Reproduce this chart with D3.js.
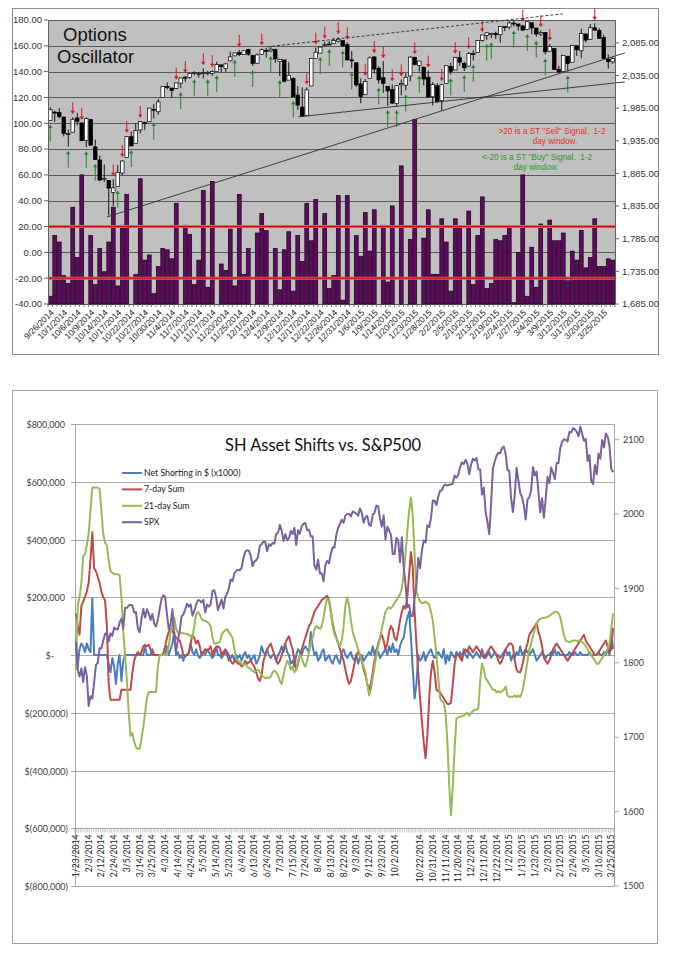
<!DOCTYPE html>
<html><head><meta charset="utf-8">
<script src="https://cdn.jsdelivr.net/npm/d3@7/dist/d3.min.js"></script>
<style>
body{margin:0;background:#fff}
svg{display:block}
.ta text{font-family:"Liberation Sans",Arial,sans-serif}
.ba text{font-family:Lato,"Open Sans",sans-serif}
</style></head>
<body><svg id="c" width="673" height="960"></svg>
<script>
// ================= DATA =================
// Options oscillator (top chart), one value per trading day 9/26/2014 .. 3/27/2015
const oscTickLabels=["9/26/2014","10/1/2014","10/6/2014","10/9/2014","10/14/2014","10/17/2014","10/22/2014","10/27/2014","10/30/2014","11/4/2014","11/7/2014","11/12/2014","11/17/2014","11/20/2014","11/25/2014","12/1/2014","12/4/2014","12/9/2014","12/12/2014","12/17/2014","12/22/2014","12/26/2014","12/31/2014","1/6/2015","1/9/2015","1/14/2015","1/20/2015","1/23/2015","1/28/2015","2/2/2015","2/5/2015","2/10/2015","2/13/2015","2/19/2015","2/24/2015","2/27/2015","3/4/2015","3/9/2015","3/12/2015","3/17/2015","3/20/2015","3/25/2015"];
const oscValues=[-34,13,8,-18,-24,35,-4,60,-45,13,
-25,3,-15,8,35,-26,21,45,-45,-17,
57,-6,-2,-32,-11,3,2,-5,38,-45,
21,14,-25,-6,48,-27,55,-45,-9,-14,
18,-26,45,-17,3,-45,15,30,17,-45,
3,-29,2,16,-30,13,-7,38,9,41,
-45,30,-28,-18,44,-37,44,-45,13,-3,
31,1,33,-45,21,-23,36,-45,67,-45,
10,103,-45,11,33,-17,-17,26,8,-30,
26,19,-45,32,-25,13,43,-28,-24,10,
9,13,19,-39,0,60,-34,4,-27,22,
-45,25,9,9,15,-22,1,-6,17,-12,
-4,26,-11,-11,-5,-6];
// S&P 500 daily close 1/23/2014 .. 3/27/2015
const spxClose=[1828.46,1790.29,1781.56,1792.50,1774.20,1794.19,1782.59,
1741.89,1755.20,1751.64,1773.43,1797.02,1799.84,1819.75,1819.26,1829.83,1838.63,1840.76,1828.75,1839.78,1836.25,1847.61,1845.12,1845.16,1854.29,1859.45,
1845.73,1873.91,1873.81,1877.03,1878.04,1877.17,1867.63,1868.20,1846.34,1841.13,1858.83,1872.25,1860.77,1872.01,1866.52,1857.44,1865.62,1852.56,1849.04,1857.62,1872.34,
1885.52,1890.90,1888.77,1865.09,1845.04,1851.96,1872.18,1833.08,1815.69,1830.61,1842.98,1862.31,1864.85,1871.89,1879.55,1875.39,1878.61,1863.40,1869.43,1878.33,1883.95,
1883.68,1881.14,1884.66,1867.72,1878.21,1875.63,1878.48,1896.65,1897.45,1888.53,1870.85,1877.86,1885.08,1872.83,1888.03,1892.49,1900.53,1911.91,1909.78,1920.03,1923.57,
1924.97,1924.24,1927.88,1940.46,1949.44,1951.27,1950.79,1943.89,1930.11,1936.16,1937.78,1941.99,1956.98,1959.48,1962.87,1962.61,1949.98,1959.53,1957.22,1960.96,1960.23,
1973.32,1974.62,1985.44,1977.65,1963.71,1972.83,1964.68,1967.57,1977.10,1973.28,1981.57,1958.12,1978.22,1973.63,1983.53,1987.01,1987.98,1978.34,1978.91,1969.95,1970.07,1930.67,
1925.15,1938.99,1920.21,1920.24,1909.57,1931.59,1936.92,1933.75,1946.72,1955.18,1955.06,1971.74,1981.60,1986.51,1992.37,1988.40,1997.92,2000.02,2000.12,1996.74,2003.37,
2002.28,2000.72,1997.65,2007.71,2001.54,1988.44,1995.69,1997.45,1985.54,1984.13,1998.98,2001.57,2011.36,2010.40,1994.29,1982.77,1998.30,1965.99,
1982.85,1977.80,1972.29,1946.16,1946.17,1967.90,1964.82,1935.10,1968.89,1928.21,
1906.13,1874.74,1877.70,1862.49,1862.76,1886.76,1904.01,1941.28,1927.11,1950.82,
1964.58,1961.63,1985.05,1982.30,1994.65,2018.05,2017.81,2012.10,2023.57,2031.21,
2031.92,2038.26,2039.68,2038.25,2039.33,2039.82,2041.32,2051.80,2048.72,2052.75,
2063.50,2069.41,2067.03,2072.83,2067.56,2053.44,2066.55,2074.33,2071.92,2075.37,
2060.31,2059.82,2026.14,2035.33,2002.33,1989.63,1972.74,2012.89,2061.23,2070.65,
2078.54,2082.17,2081.88,2088.77,2090.57,2080.35,2058.90,2058.20,2020.58,2002.61,
2025.90,2062.14,2044.81,2028.26,2023.03,2011.27,1992.67,2019.42,2022.55,2032.12,
2063.15,2051.82,2057.09,2029.55,2002.16,2021.25,1994.99,2020.85,2050.03,2041.51,
2062.52,2055.47,2046.74,2068.59,2068.53,2088.48,2096.99,2100.34,2099.68,2097.45,
2110.30,2109.66,2115.48,2113.86,2110.74,2104.50,2117.39,2107.78,2098.53,2101.04,
2071.26,2079.43,2044.16,2040.24,2065.95,2053.40,2081.19,2074.28,2099.50,2089.27,
2108.10,2104.42,2091.50,2061.05,2056.15,2061.02];
const oscStart=171; // 9/26/2014 in spxClose
const oscOpen=[1966.2,1978.96,1978.21,1971.44,1945.83,1948.12,1970.01,1962.36,1935.55,1967.68,
1925.63,1905.65,1877.11,1874.18,1855.95,1864.91,1885.62,1909.38,1941.29,1931.02,
1951.59,1962.97,1964.14,1983.29,1979.49,2001.2,2018.21,2015.81,2015.29,2023.33,
2032.36,2032.01,2038.2,2037.75,2039.21,2039.74,2038.29,2041.48,2051.16,2045.87,
2057.46,2065.07,2070.15,2067.36,2074.78,2065.78,2053.77,2067.45,2073.64,2072.78,
2074.84,2056.55,2058.86,2027.92,2030.36,2005.03,1986.71,1973.77,2018.98,2061.04,
2069.28,2081.48,2083.25,2084.3,2087.63,2088.49,2082.11,2058.9,2054.44,2022.15,
2005.55,2030.61,2063.45,2046.13,2031.58,2018.4,2013.75,1992.25,2020.76,2020.19,
2034.3,2062.98,2050.42,2047.86,2032.34,2002.45,2019.35,1996.67,2022.71,2048.86,
2043.45,2062.28,2053.47,2049.38,2068.55,2069.98,2088.78,2096.47,2099.16,2099.25,
2097.65,2109.83,2109.1,2115.3,2113.91,2110.88,2105.23,2115.76,2107.72,2098.54,
2100.91,2072.25,2076.14,2044.69,2041.1,2064.56,2055.35,2080.59,2072.84,2098.69,
2090.32,2107.99,2103.94,2093.1,2059.94,2055.78];
const oscHigh=[1986.37,1981.28,1985.17,1971.44,1952.32,1971.19,1977.84,1962.36,1970.36,1967.68,
1936.98,1912.09,1898.71,1874.18,1876.01,1898.16,1905.03,1942.45,1949.31,1961.95,
1965.27,1964.64,1985.05,1991.4,1999.4,2018.19,2024.46,2015.98,2023.77,2031.61,
2034.26,2038.7,2041.28,2040.33,2046.18,2042.22,2043.07,2056.08,2052.14,2053.84,
2071.46,2070.17,2074.21,2073.29,2075.76,2065.78,2068.77,2076.28,2077.34,2079.47,
2075.78,2060.6,2058.86,2055.53,2032.25,2018.69,2016.89,2016.75,2061.23,2077.85,
2078.76,2086.73,2087.56,2092.7,2093.55,2088.49,2085.58,2072.36,2054.44,2030.25,
2029.61,2064.08,2064.43,2049.3,2056.93,2018.4,2021.35,2020.46,2028.94,2038.29,
2064.62,2062.98,2057.62,2047.86,2042.49,2024.64,2023.32,2021.66,2050.3,2054.74,
2063.55,2072.4,2056.16,2070.86,2073.48,2088.53,2097.03,2101.3,2100.23,2102.13,
2110.61,2110.05,2117.94,2119.59,2113.91,2112.74,2117.52,2115.76,2107.72,2104.25,
2100.91,2083.49,2076.14,2050.08,2066.41,2064.56,2081.41,2080.59,2106.85,2098.69,
2113.92,2114.86,2107.63,2097.43,2067.15,2062.83];
const oscLow=[1966.22,1964.04,1968.96,1941.72,1926.03,1948.12,1958.43,1935.1,1925.25,1927.56,
1906.05,1874.14,1871.79,1820.66,1835.02,1864.91,1882.3,1909.38,1926.83,1931.02,
1946.27,1951.37,1964.14,1969.04,1974.75,2001.2,2013.68,2001.01,2014.03,2015.86,
2025.07,2030.17,2035.28,2031.95,2030.44,2035.2,2034.46,2041.48,2040.37,2040.49,
2056.75,2065.07,2064.75,2066.62,2065.06,2049.57,2053.77,2066.65,2062.34,2070.81,
2054.27,2034.17,2024.26,2027.92,2002.33,1982.26,1972.56,1973.77,2018.98,2061.03,
2069.28,2079.77,2081.86,2084.3,2085.75,2079.53,2057.94,2046.04,2017.34,1992.44,
2005.55,2030.61,2038.33,2022.58,2008.25,1988.44,1991.47,1988.12,2004.49,2012.04,
2026.38,2050.54,2040.97,2019.91,2001.49,1989.18,1993.38,1980.9,2022.71,2036.72,
2043.45,2049.97,2041.88,2048.62,2057.99,2069.98,2086.7,2089.8,2092.15,2090.79,
2085.44,2103,2105.87,2109.89,2103.76,2103.75,2104.5,2098.26,2094.49,2095.22,
2067.27,2072.21,2044.16,2039.69,2041.1,2041.17,2055.35,2065.08,2061.23,2085.56,
2090.32,2104.42,2091.5,2061.05,2045.5,2052.96];
const oscLeftTicks=[-40,-20,0,20,40,60,80,100,120,140,160,180];
const oscRightTicks=[1685,1735,1785,1835,1885,1935,1985,2035,2085];
const signalLevels=[20,-20];
// trend lines: [category index, SPX level]
const trendLines=[
 {a:[48.2,2079],b:[113.9,2129.4],dash:"3,2"},
 {a:[12.6,1818.3],b:[127.7,2069.7],dash:null},
 {a:[55.1,1971.6],b:[127.7,2025.2],dash:null}];

// SH asset shifts (bottom chart), thousands of $, 1/23/2014 .. 3/26/2015
const shTickLabels=["1/23/2014","2/3/2014","2/12/2014","2/24/2014","3/5/2014","3/14/2014","3/25/2014","4/3/2014","4/14/2014","4/24/2014","5/5/2014","5/14/2014","5/23/2014","6/4/2014","6/13/2014","6/24/2014","7/3/2014","7/15/2014","7/24/2014","8/4/2014","8/13/2014","8/22/2014","9/3/2014","9/12/2014","9/23/2014","10/2/2014","","10/22/2014","10/31/2014","11/11/2014","11/20/2014","12/2/2014","12/11/2014","12/22/2014","1/2/2015","1/13/2015","1/23/2015","2/3/2015","2/12/2015","2/24/2015","3/5/2015","3/16/2015","3/25/2015"];
const netShort=[50,-40,20,40,30,10,40,20,10,195,
0,0,0,0,0,0,0,0,-30,-60,
-10,-40,-100,-30,0,-90,-20,0,0,0,
0,0,0,0,0,0,0,0,30,0,
0,0,20,0,0,0,0,0,0,0,
30,0,20,40,80,0,10,-10,0,-20,
0,0,10,40,10,0,20,0,-10,0,
10,0,20,10,0,-10,0,30,0,0,
-10,0,10,0,-20,-10,0,-20,0,-10,
0,-20,0,10,-10,0,-20,-10,0,-30,
-20,0,30,10,0,20,0,-10,0,0,
-20,0,10,30,10,40,10,0,-30,-20,
-40,0,20,10,0,20,30,20,10,80,
30,0,10,-20,-10,10,20,-20,-10,0,
-20,-30,-10,0,-20,-30,10,20,0,-10,
0,10,-10,-20,0,-30,-10,0,-20,-10,
0,10,0,30,0,20,10,-10,0,10,
20,0,30,10,40,10,20,0,30,50,
60,100,130,150,60,-50,-150,-100,0,-20,
-10,10,-20,0,10,20,0,-10,0,10,
0,-10,20,-30,0,-20,10,0,-10,10,
0,10,-10,20,0,-10,10,0,-10,0,
10,0,-10,20,0,-10,0,10,-10,0,
10,0,0,-10,0,10,20,0,10,-20,
0,-10,10,0,30,0,10,20,10,0,
10,20,0,-20,-10,0,10,0,-10,0,
0,10,0,20,0,10,0,0,0,0,
0,10,0,0,10,0,0,10,0,0,
0,0,10,0,0,0,0,10,0,0,
10,0,20,0,80,20];
const sum7=[145,100,70,170,185,200,220,250,330,425,
300,290,270,250,220,200,190,100,-100,-155,
-155,-155,-155,-155,-155,-120,-120,-120,-120,-120,
-120,-60,-20,0,10,0,10,30,35,30,
35,20,0,0,0,0,0,0,5,30,
60,80,90,85,70,60,55,50,30,0,
-5,0,5,40,70,60,40,50,30,0,
10,20,15,20,30,0,20,25,30,25,
0,10,20,10,0,-20,-30,-25,-20,-30,
-30,-40,-35,-20,-30,-25,-20,-30,-40,-60,
-80,-90,-70,-20,0,20,30,40,20,0,
-20,-30,-20,0,20,40,55,65,40,20,
-20,-50,-30,0,20,40,60,80,100,110,
130,150,160,170,180,190,195,200,205,190,
150,110,80,60,40,20,0,-20,-50,-80,
-100,-90,-60,-30,0,10,0,-20,-50,-70,
-100,-120,-100,-60,-20,10,40,60,70,50,
20,40,80,100,90,60,50,80,120,150,
170,160,200,280,357,300,150,40,-60,-150,
-230,-300,-357,-280,-150,-60,-20,-60,-120,-125,
-130,-140,-150,-160,-170,-170,-165,-100,-30,0,
0,-10,-20,10,20,10,30,20,10,20,
30,20,10,0,-10,0,10,20,30,20,
10,0,-20,-30,-20,0,20,30,40,40,
30,-20,-50,-60,-60,-40,-10,20,40,70,
80,90,100,110,80,60,30,-10,-20,-30,
-20,0,20,30,40,30,20,10,0,-10,
-20,-10,0,10,20,30,40,50,60,70,
50,40,30,20,10,0,0,10,20,30,
40,50,30,10,20,94];
const sum21=[-50,170,200,250,340,350,380,420,500,580,
580,580,580,575,500,420,390,380,330,290,
285,280,280,280,275,200,80,0,-90,-200,
-280,-270,-300,-320,-325,-325,-290,-250,-200,-150,
-128,-128,-128,-128,-128,-40,0,0,0,0,
5,30,80,100,130,90,78,76,75,75,
74,73,70,65,60,100,140,150,140,125,
120,118,115,110,100,60,40,40,42,45,
70,80,85,90,80,70,60,20,-10,-20,
-25,-30,-35,-30,-40,-45,-50,-55,-60,-55,
-50,-60,-70,-75,-80,-78,-80,-75,-60,-55,
-60,-70,-90,-100,-70,-40,-20,-30,-50,-40,
-60,-50,-20,0,-10,-30,-40,-20,10,40,
60,90,100,95,90,100,130,170,195,190,
150,100,70,60,40,30,50,100,170,200,
170,120,80,60,40,20,0,-20,-40,-60,
-100,-140,-120,-80,-40,0,30,60,90,120,
150,160,165,160,170,180,190,200,210,230,
280,350,430,500,545,480,350,220,200,185,
180,180,185,180,175,150,120,60,0,-80,
-150,-160,-165,-200,-300,-450,-555,-450,-320,-220,
-215,-215,-210,-210,-205,-200,-210,-200,-195,-190,
-190,-185,-90,-30,-50,-80,-90,-100,-110,-120,
-120,-130,-125,-130,-125,-120,-110,-140,-145,-145,
-145,-140,-145,-140,-145,-130,-100,-60,-20,20,
40,65,90,110,120,125,128,128,130,132,
135,140,145,150,150,145,130,100,70,50,
47,45,47,50,50,48,50,50,45,40,
30,20,10,0,-10,-20,-30,-30,-20,-10,
0,10,20,40,90,145];
const shSeries=[
 {name:"Net Shorting in $ (x1000)",values:netShort,color:"#4a7ebb",axis:"L"},
 {name:"7-day Sum",values:sum7,color:"#be4b48",axis:"L"},
 {name:"21-day Sum",values:sum21,color:"#98b954",axis:"L"},
 {name:"SPX",values:spxClose.slice(0,296),color:"#7d60a0",axis:"R"}];
const shLeftTicks=[-800,-600,-400,-200,0,200,400,600,800];
const shRightTicks=[1500,1600,1700,1800,1900,2000,2100];

// ================= DRAW =================
const svg=d3.select("#c");

// ---------- TOP CHART ----------
(function(){
 const g=svg.append("g").attr("class","ta");
 const P={l:48,r:615,t:20,b:304};
 g.append("rect").attr("x",12.5).attr("y",8.5).attr("width",646).attr("height",346).attr("fill","#fff").attr("stroke","#8c8c8c");
 const n=oscValues.length;
 const x=d3.scaleBand().domain(d3.range(n)).range([P.l,P.r]);
 const xi=d3.scaleLinear().domain([-0.5,n-0.5]).range([P.l,P.r]);
 const bw=x.bandwidth();
 const yL=d3.scaleLinear().domain([-40,180]).range([P.b,P.t]);
 const yR=d3.scaleLinear().domain([1685,2120]).range([P.b,P.t]);
 g.append("rect").attr("x",P.l).attr("y",P.t).attr("width",P.r-P.l).attr("height",P.b-P.t).attr("fill","#c0c0c0");
 g.selectAll(".grid").data(oscLeftTicks).join("line").attr("x1",P.l).attr("x2",P.r)
  .attr("y1",d=>Math.round(yL(d))+0.5).attr("y2",d=>Math.round(yL(d))+0.5).attr("stroke","#5a5a5a").attr("stroke-width",1);
 // bars
 const w=bw*0.86;
 g.selectAll(".bar").data(oscValues.map((v,i)=>({v,i})).filter(d=>d.v>-40)).join("rect")
  .attr("x",d=>x(d.i)+(bw-w)/2).attr("width",w)
  .attr("y",d=>yL(d.v)).attr("height",d=>yL(-40)-yL(d.v))
  .attr("fill","#5e0b5e").attr("stroke","#1c001c").attr("stroke-width",0.7);
 // signal lines
 g.selectAll(".sig").data(signalLevels).join("line").attr("x1",P.l).attr("x2",P.r)
  .attr("y1",d=>yL(d)).attr("y2",d=>yL(d)).attr("stroke","#e06060").attr("stroke-width",3);
 g.selectAll(".sig2").data(signalLevels).join("line").attr("x1",P.l).attr("x2",P.r)
  .attr("y1",d=>yL(d)).attr("y2",d=>yL(d)).attr("stroke","#c41010").attr("stroke-width",1.3);
 // candles
 const close=spxClose.slice(oscStart,oscStart+n);
 const cd=close.map((c,i)=>({i,o:oscOpen[i],h:oscHigh[i],l:oscLow[i],c}));
 const cw=bw*0.8;
 g.selectAll(".wick").data(cd).join("line").attr("x1",d=>x(d.i)+bw/2).attr("x2",d=>x(d.i)+bw/2)
  .attr("y1",d=>yR(d.h)).attr("y2",d=>yR(d.l)).attr("stroke","#000").attr("stroke-width",0.9);
 g.selectAll(".body").data(cd).join("rect").attr("x",d=>x(d.i)+(bw-cw)/2).attr("width",cw)
  .attr("y",d=>yR(Math.max(d.o,d.c))).attr("height",d=>Math.max(1,Math.abs(yR(d.o)-yR(d.c))))
  .attr("fill",d=>d.c>=d.o?"#fff":"#000").attr("stroke","#000").attr("stroke-width",0.7);
 // signal arrows
 cd.forEach(d=>{
  const v=oscValues[d.i], cx=x(d.i)+bw/2;
  if(v>20){
   const tip=yR(d.h)-3, tail=tip-12;
   g.append("line").attr("x1",cx).attr("x2",cx).attr("y1",tail).attr("y2",tip-3).attr("stroke","#e01818").attr("stroke-width",1);
   g.append("path").attr("d",`M${cx-2.2},${tip-3.5}L${cx+2.2},${tip-3.5}L${cx},${tip}Z`).attr("fill","#e01818");
  } else if(v<-20){
   const tip=yR(d.l)+4, tail=tip+17;
   g.append("line").attr("x1",cx).attr("x2",cx).attr("y1",tip+3).attr("y2",tail).attr("stroke","#1e8a1e").attr("stroke-width",1);
   g.append("path").attr("d",`M${cx-2.2},${tip+3.5}L${cx+2.2},${tip+3.5}L${cx},${tip}Z`).attr("fill","#1e8a1e");
  }
 });
 // trend lines
 trendLines.forEach(t=>{
  g.append("line").attr("x1",xi(t.a[0])).attr("y1",yR(t.a[1])).attr("x2",xi(t.b[0])).attr("y2",yR(t.b[1]))
   .attr("stroke","#303030").attr("stroke-width",0.9).attr("stroke-dasharray",t.dash);
 });
 // axes
 g.append("line").attr("x1",P.l+0.5).attr("x2",P.l+0.5).attr("y1",P.t).attr("y2",P.b).attr("stroke","#606060");
 g.append("line").attr("x1",P.r+0.5).attr("x2",P.r+0.5).attr("y1",P.t).attr("y2",P.b).attr("stroke","#606060");
 oscLeftTicks.forEach(v=>{
  g.append("line").attr("x1",P.l-4).attr("x2",P.l).attr("y1",yL(v)).attr("y2",yL(v)).attr("stroke","#606060");
  g.append("text").attr("x",42).attr("y",yL(v)).attr("dy","0.35em").attr("text-anchor","end")
   .attr("font-size",9.5).attr("fill","#333").text(v.toFixed(2));
 });
 const fR=d3.format(",.2f");
 oscRightTicks.forEach(v=>{
  g.append("line").attr("x1",P.r).attr("x2",P.r+4).attr("y1",yR(v)).attr("y2",yR(v)).attr("stroke","#606060");
  g.append("text").attr("x",622).attr("y",yR(v)).attr("dy","0.35em").attr("text-anchor","start")
   .attr("font-size",9.5).attr("fill","#333").text(fR(v));
 });
 d3.range(n+1).forEach(k=>{
  const xx=P.l+k*bw;
  g.append("line").attr("x1",xx).attr("x2",xx).attr("y1",P.b).attr("y2",P.b+3).attr("stroke","#606060").attr("stroke-width",0.8);
 });
 oscTickLabels.forEach((lab,k)=>{
  const cx=x(k*3)+bw/2;
  g.append("text").attr("transform",`translate(${cx+2},${P.b+7}) rotate(-45)`).attr("text-anchor","end").attr("dy","0.35em")
   .attr("font-size",8.5).attr("fill","#222").text(lab);
 });
 // titles / notes
 g.append("text").attr("x",63).attr("y",41).attr("font-size",18.5).attr("fill","#111").text("Options");
 g.append("text").attr("x",57).attr("y",63).attr("font-size",18.5).attr("fill","#111").text("Oscillator");
 const notes=[
  {t:'>20 is a ST "Sell" Signal.  1-2',x:552,y:134,c:"#e8302a"},
  {t:'day window.',x:555,y:144,c:"#e8302a"},
  {t:'<-20 is a ST "Buy" Signal.  1-2',x:537,y:160,c:"#2e9a2e"},
  {t:'day window.',x:536,y:170,c:"#2e9a2e"}];
 notes.forEach(d=>g.append("text").attr("x",d.x).attr("y",d.y).attr("text-anchor","middle").attr("font-size",8.2)
  .attr("fill",d.c).style("white-space","pre").text(d.t));
})();

// ---------- BOTTOM CHART ----------
(function(){
 const g=svg.append("g").attr("class","ba");
 const P={l:75,r:614,t:424,b:886};
 g.append("rect").attr("x",12.5).attr("y",390.5).attr("width",645).attr("height",553).attr("fill","#fff").attr("stroke","#a0a0a0");
 const n=296;
 const x=d3.scaleBand().domain(d3.range(n)).range([P.l,P.r]);
 const bw=x.bandwidth();
 const yL=d3.scaleLinear().domain([-800,800]).range([P.b,P.t]);
 const yR=d3.scaleLinear().domain([1500,2121]).range([P.b,P.t]);
 shLeftTicks.forEach(v=>{
  const yy=Math.round(yL(v))+0.5;
  g.append("line").attr("x1",P.l).attr("x2",P.r).attr("y1",yy).attr("y2",yy).attr("stroke","#a8a8a8");
  g.append("line").attr("x1",P.l-4).attr("x2",P.l).attr("y1",yy).attr("y2",yy).attr("stroke","#a8a8a8");
  const s=v===0?"$-":(v>0?"$"+d3.format(",")(v*1000):"$("+d3.format(",")(-v*1000)+")");
  g.append("text").attr("x",v===0?54:(v>0?65:68)).attr("y",yy).attr("dy","0.35em").attr("text-anchor","end")
   .attr("font-size",9).attr("fill","#404040").text(s);
 });
 g.append("line").attr("x1",P.l+0.5).attr("x2",P.l+0.5).attr("y1",P.t).attr("y2",P.b).attr("stroke","#a8a8a8");
 g.append("line").attr("x1",P.r+0.5).attr("x2",P.r+0.5).attr("y1",P.t).attr("y2",P.b).attr("stroke","#a8a8a8");
 shRightTicks.forEach(v=>{
  g.append("line").attr("x1",P.r).attr("x2",P.r+5).attr("y1",yR(v)).attr("y2",yR(v)).attr("stroke","#a8a8a8");
  g.append("text").attr("x",623).attr("y",yR(v)).attr("dy","0.35em").attr("font-size",9).attr("fill","#404040").text(v);
 });
 // category axis crossing at -600k
 const ax=Math.round(yL(-600))+0.5;
 g.append("line").attr("x1",P.l).attr("x2",P.r).attr("y1",ax).attr("y2",ax).attr("stroke","#a8a8a8");
 d3.range(n+1).forEach(k=>{
  const xx=P.l+k*bw;
  g.append("line").attr("x1",xx).attr("x2",xx).attr("y1",ax).attr("y2",ax+4).attr("stroke","#a8a8a8").attr("stroke-width",0.6);
 });
 shTickLabels.forEach((lab,k)=>{
  const cx=x(k*7)+bw/2;
  g.append("text").attr("transform",`translate(${cx},${ax+6}) rotate(-90)`).attr("text-anchor","end").attr("dy","0.35em")
   .attr("font-size",8.6).attr("fill","#222").text(lab);
 });
 // series
 shSeries.forEach(s=>{
  const ys=s.axis==="L"?yL:yR;
  const line=d3.line().x((d,i)=>x(i)+bw/2).y(d=>ys(d));
  g.append("path").attr("d",line(s.values)).attr("fill","none").attr("stroke",s.color).attr("stroke-width",2).attr("stroke-linejoin","round");
 });
 // title
 g.append("text").attr("x",225).attr("y",451).attr("font-size",17.5).attr("textLength",196).attr("lengthAdjust","spacingAndGlyphs")
  .attr("fill","#111").text("SH Asset Shifts vs. S&P500");
 // legend
 shSeries.forEach((s,k)=>{
  const yy=473+k*16.4;
  g.append("line").attr("x1",122).attr("x2",142).attr("y1",yy).attr("y2",yy).attr("stroke",s.color).attr("stroke-width",2);
  g.append("text").attr("x",144).attr("y",yy).attr("dy","0.35em").attr("font-size",8.7).attr("fill","#222").text(s.name);
 });
})();
</script></body></html>
